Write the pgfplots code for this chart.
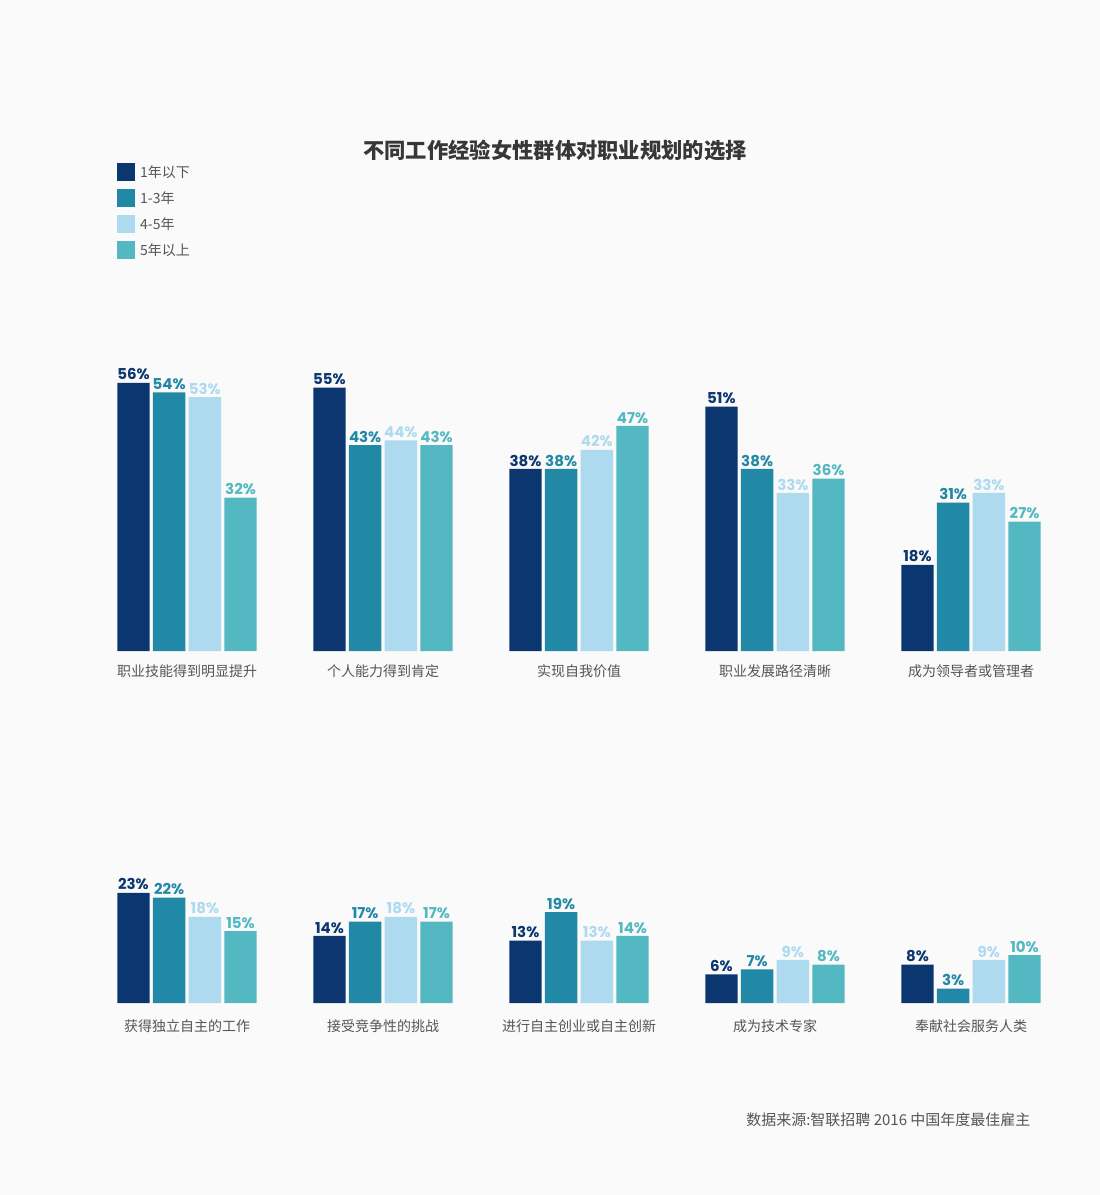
\documentclass[border=0pt]{standalone}
\usepackage{fontspec}
\setmainfont{Noto Sans CJK SC}
\newfontfamily\popp{Poppins}
\usepackage{pgfplots}
\pgfplotsset{compat=1.18}
\definecolor{cA}{RGB}{11,54,112}
\definecolor{cB}{RGB}{33,137,165}
\definecolor{cC}{RGB}{174,218,240}
\definecolor{cD}{RGB}{83,184,193}
\definecolor{bg}{RGB}{250,250,250}
\definecolor{txt}{RGB}{85,85,85}
\definecolor{ttl}{RGB}{55,55,55}

\pgfplotsset{
  rowaxis/.style={
    ybar, bar width=0.1648,
    scale only axis, width=980pt, height=287.4pt,
    xmin=-0.5, xmax=4.5, ymin=0, ymax=60,
    axis line style={draw=none}, major tick length=0pt,
    ytick=\empty, xtick={0,1,2,3,4},
    xticklabel style={font=\fontsize{14}{14}\selectfont, text=txt, yshift=-10pt},
    clip=false, anchor=south west,
    nodes near coords={\pgfmathprintnumber[assume math mode=true]{\pgfplotspointmeta}\%},
    nodes near coords style={font=\popp\bfseries\fontsize{15}{15}\selectfont, inner sep=2.5pt},
  },
  sA/.style={fill=cA, draw=none, bar shift=-0.2732, every node near coord/.append style={text=cA}},
  sB/.style={fill=cB, draw=none, bar shift=-0.0911, every node near coord/.append style={text=cB}},
  sC/.style={fill=cC, draw=none, bar shift=0.0911, every node near coord/.append style={text=cC}},
  sD/.style={fill=cD, draw=none, bar shift=0.2732, every node near coord/.append style={text=cD}},
}

\begin{document}
\begin{tikzpicture}
\fill[bg] (0pt,0pt) rectangle (1100pt,-1195pt);

\begin{axis}[rowaxis, at={(89pt,-651pt)},
  xticklabels={职业技能得到明显提升,个人能力得到肯定,实现自我价值,职业发展路径清晰,成为领导者或管理者},
  legend style={at={(rel axis cs:0.0286,1.698)}, anchor=north west, draw=none, fill=none,
    inner sep=0pt, row sep=8pt, font=\fontsize{14}{14}\selectfont, text=txt},
  legend cell align=left,
  legend image code/.code={\fill[#1] (0pt,-9pt) rectangle (18pt,9pt); \path (21pt,0pt);},
]
\addplot[sA] coordinates {(0,56) (1,55) (2,38) (3,51) (4,18)};
\addplot[sB] coordinates {(0,54) (1,43) (2,38) (3,38) (4,31)};
\addplot[sC] coordinates {(0,53) (1,44) (2,42) (3,33) (4,33)};
\addplot[sD] coordinates {(0,32) (1,43) (2,47) (3,36) (4,27)};
\legend{1年以下,1-3年,4-5年,5年以上}
\end{axis}

\begin{axis}[rowaxis, at={(89pt,-1003pt)},
  xticklabels={获得独立自主的工作,接受竞争性的挑战,进行自主创业或自主创新,成为技术专家,奉献社会服务人类},
  xticklabel style={yshift=-3pt},
]
\addplot[sA] coordinates {(0,23) (1,14) (2,13) (3,6) (4,8)};
\addplot[sB] coordinates {(0,22) (1,17) (2,19) (3,7) (4,3)};
\addplot[sC] coordinates {(0,18) (1,18) (2,13) (3,9) (4,9)};
\addplot[sD] coordinates {(0,15) (1,17) (2,14) (3,8) (4,10)};
\end{axis}

\node[font=\bfseries\fontsize{21.3}{21.3}\selectfont, text=ttl] at (555pt,-150pt) {不同工作经验女性群体对职业规划的选择};
\node[anchor=east, font=\fontsize{15}{15}\selectfont, text=txt] at (1034pt,-1120pt) {数据来源:智联招聘 2016 中国年度最佳雇主};
\end{tikzpicture}
\end{document}
